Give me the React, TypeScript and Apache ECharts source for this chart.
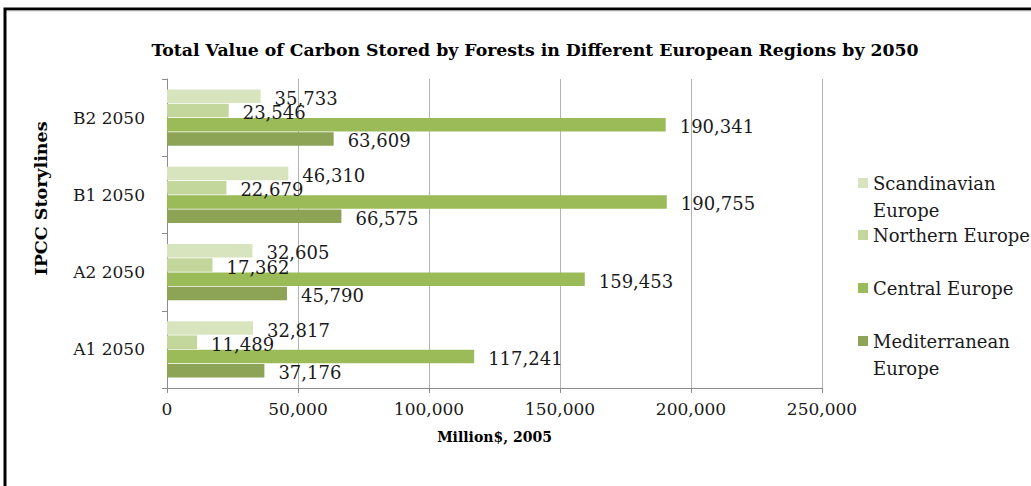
import React, { useEffect, useRef } from "react";
import * as echarts from "echarts";

const categories = ["A1 2050", "A2 2050", "B1 2050", "B2 2050"];
const seriesNames = ["Scandinavian Europe", "Northern Europe", "Central Europe", "Mediterranean Europe"];
const scandinavian = [32817, 32605, 46310, 35733];
const northern = [11489, 17362, 22679, 23546];
const central = [117241, 159453, 190755, 190341];
const mediterranean = [37176, 45790, 66575, 63609];
const seriesColors = ["#d7e4bd", "#c3d69b", "#9bbb59", "#8da457"];
const legendLabels = ["Scandinavian\nEurope", "Northern Europe", "Central Europe", "Mediterranean\nEurope"];
const legendTops = [169.5, 221.5, 274.5, 327.5];

const FONT = "DejaVu Serif";
const fmt = (v: number) => Number(v).toLocaleString("en-US");

export default function App() {
  const ref = useRef<HTMLDivElement>(null);
  useEffect(() => {
    if (!ref.current) return;
    const chart = echarts.init(ref.current, undefined, { renderer: "svg" });
    const values = [scandinavian, northern, central, mediterranean];
    const series = seriesNames.map((name, i) => ({
      name,
      type: "bar",
      data: values[i],
      barGap: "4%",
      barCategoryGap: "27%",
      itemStyle: { color: seriesColors[i] },
      label: {
        show: true,
        position: "right",
        distance: 14,
        offset: [0, 2],
        fontFamily: FONT,
        fontSize: 18,
        color: "#1a1a1a",
        formatter: (p: any) => fmt(p.value),
      },
    }));
    const legends = seriesNames.map((name, i) => {
      const twoLine = legendLabels[i].includes("\n");
      return {
        show: true,
        orient: "vertical",
        left: 858,
        top: legendTops[i],
        padding: 0,
        itemWidth: 10,
        itemHeight: twoLine ? 37 : 10,
        selectedMode: false,
        data: [
          {
            name,
            icon: twoLine ? "path://M0,0h10v10h-10z M10,37" : "rect",
          },
        ],
        formatter: () => legendLabels[i],
        textStyle: {
          fontFamily: FONT,
          fontSize: 18,
          lineHeight: 27,
          color: "#1a1a1a",
        },
      };
    });
    chart.setOption({
      animation: false,
      backgroundColor: "#ffffff",
      title: {
        text: "Total Value of Carbon Stored by Forests in Different European Regions by 2050",
        left: 530,
        top: 36,
        textAlign: "center",
        textStyle: { fontFamily: FONT, fontSize: 17.3, fontWeight: "bold", color: "#000" },
      },
      legend: legends,
      grid: { left: 167, right: 209, top: 79, bottom: 98, containLabel: false },
      xAxis: {
        type: "value",
        min: 0,
        max: 250000,
        interval: 50000,
        name: "Million$, 2005",
        nameLocation: "middle",
        nameGap: 42,
        nameTextStyle: { fontFamily: FONT, fontSize: 14, fontWeight: "bold", color: "#000" },
        axisLine: { show: true, lineStyle: { color: "#8c8c8c", width: 1 } },
        axisTick: { show: true, length: 5, lineStyle: { color: "#8c8c8c" } },
        axisLabel: {
          margin: 12,
          fontFamily: FONT,
          fontSize: 17,
          color: "#1a1a1a",
          formatter: (v: number) => fmt(v),
        },
        splitLine: { show: true, lineStyle: { color: "#b3b3b3", width: 1 } },
      },
      yAxis: {
        type: "category",
        data: categories,
        name: "IPCC Storylines",
        nameLocation: "middle",
        nameGap: 117,
        nameRotate: 90,
        nameTextStyle: {
          fontFamily: FONT,
          fontSize: 17.5,
          fontWeight: "bold",
          color: "#000",
          padding: [0, 0, 0, 70],
        },
        axisLine: { show: true, lineStyle: { color: "#8c8c8c", width: 1 } },
        axisTick: { show: true, length: 5, lineStyle: { color: "#8c8c8c" } },
        axisLabel: {
          margin: 22,
          fontFamily: FONT,
          fontSize: 17,
          color: "#1a1a1a",
          padding: [7, 0, 0, 0],
        },
        splitLine: { show: false },
      },
      graphic: [
        {
          type: "rect",
          shape: { x: 5, y: 9, width: 1200, height: 700 },
          style: { fill: "none", stroke: "#000", lineWidth: 3 },
          silent: true,
          z: 100,
        },
        {
          type: "line",
          shape: { x1: 7, y1: 11, x2: 1031, y2: 11 },
          style: { stroke: "#cfcfcf", lineWidth: 1 },
          silent: true,
          z: 100,
        },
      ],
      series,
    });
    return () => chart.dispose();
  }, []);
  return (
    <div
      ref={ref}
      style={{ position: "fixed", left: 0, top: 0, width: 1031, height: 486 }}
    />
  );
}
